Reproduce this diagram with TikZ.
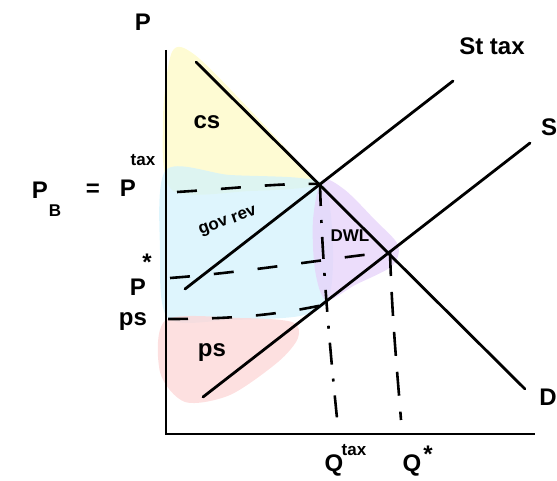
\documentclass[tikz,border=0pt]{standalone}
\usepackage{fontspec}
\setmainfont{Liberation Sans}
\begin{document}
\begin{tikzpicture}[x=1pt,y=-1pt,
  curve/.style={line width=2.8pt,line cap=round},
  axis/.style={line width=2.8pt},
  guide/.style={line width=2.6pt,dash pattern=on 20pt off 24pt},
  guidedot/.style={line width=2.6pt,dash pattern=on 22pt off 14pt on 3pt off 14pt},
  lab/.style={font=\fontsize{24}{26}\selectfont\bfseries,inner sep=0pt},
  small/.style={font=\fontsize{17}{19}\selectfont\bfseries,inner sep=0pt},
  blob/.style={draw=none,opacity=0.75}]
\useasboundingbox (0,0) rectangle (557,481);
\definecolor{csY}{HTML}{FEFAC4}
\definecolor{govB}{HTML}{D3F2FC}
\definecolor{dwlP}{HTML}{E6D2FA}
\definecolor{psR}{HTML}{FDD6D6}
% shaded regions
\fill[blob,csY] plot[smooth cycle] coordinates {(172,52) (195,55) (250,110) (305,170) (312,186) (250,191) (172,190) (163,120)};
\fill[blob,govB] plot[smooth cycle] coordinates {(166,170) (230,175) (300,178) (326,188) (333,250) (328,300) (300,316) (230,320) (168,318) (160,250)};
\fill[blob,dwlP] plot[smooth cycle] coordinates {(322,180) (345,190) (375,220) (398,245) (392,266) (355,285) (326,300) (315,270) (313,220)};
\fill[blob,psR] plot[smooth cycle] coordinates {(166,320) (240,318) (292,322) (298,338) (278,362) (230,395) (185,402) (160,372)};
% axes
\coordinate (ytop) at (166,50);
\coordinate (orig) at (166,434);
\coordinate (xend) at (535,434);
\draw[axis] (ytop) -- (orig) -- (xend);
% curves
\coordinate (d1) at (196,62);
\coordinate (d2) at (525,389);
\coordinate (s1) at (203,397);
\coordinate (s2) at (530,143);
\coordinate (t1) at (185,289);
\coordinate (t2) at (453,81);
\draw[curve] (d1) -- (d2);
\draw[curve] (s1) -- (s2);
\draw[curve] (t1) -- (t2);
% key points
\coordinate (etax) at (320,184);
\coordinate (estar) at (390,252);
\coordinate (eps) at (323,305);
% dashed guides
\coordinate (ptaxL) at (177,192);
\coordinate (pstarL) at (170,278);
\coordinate (psL) at (168,319);
\coordinate (qtaxB) at (338,428);
\coordinate (qstarB) at (401,420);
\draw[guide] (ptaxL) .. controls (240,188) and (280,183) .. (etax);
\draw[guide] (pstarL) .. controls (250,272) and (330,258) .. (estar);
\draw[guide] (psL) .. controls (240,319) and (280,314) .. (eps);
\draw[guidedot] (etax) .. controls (322,260) and (330,350) .. (qtaxB);
\draw[guide,dash pattern=on 24pt off 16pt] (estar) .. controls (392,320) and (398,380) .. (qstarB);
% labels
\node[lab] (lP) at (143,22) {P};
\node[lab] (lPB) at (40,190) {P};
\node[small] (lB) at (55,211) {B};
\node[lab] (leq) at (93,190) {=};
\node[lab] (lPt) at (128,188) {P};
\node[small] (ltax) at (143,160) {tax};
\node[lab] (lPs) at (138,287) {P};
\node[lab] (lstar) at (147,262) {*};
\node[lab] (lps) at (133,322) {ps};
\node[lab] (lCS) at (207,122) {cs};
\node[small,rotate=20] (lgov) at (228,222) {gov rev};
\node[small] (lDWL) at (350,236) {DWL};
\node[lab] (lps2) at (212,353) {ps};
\node[lab] (lSt) at (492,46) {St tax};
\node[lab] (lS) at (549,127) {S};
\node[lab] (lD) at (548,397) {D};
\node[lab] (lQt) at (334,465) {Q};
\node[small] (lQtax) at (354,450) {tax};
\node[lab] (lQs) at (412,465) {Q};
\node[lab] (lQstar) at (428,454) {*};
\end{tikzpicture}
\end{document}
